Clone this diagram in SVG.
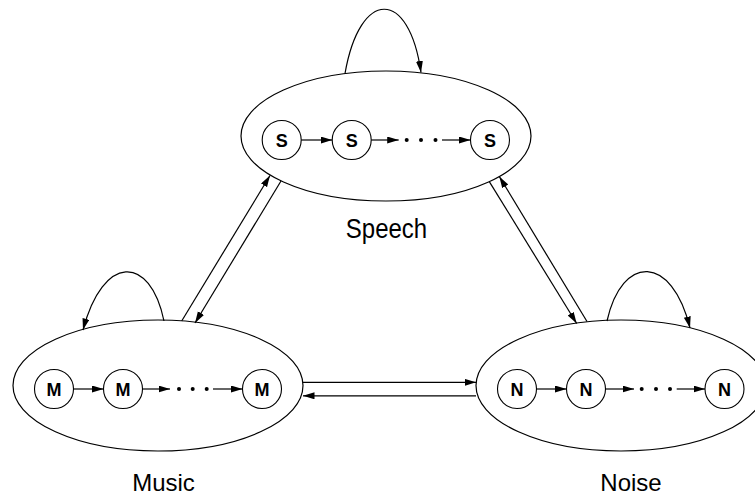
<svg xmlns="http://www.w3.org/2000/svg" width="755" height="496" viewBox="0 0 755 496">
<style>
.ell{fill:none;stroke:#000;stroke-width:1.2}
.st{fill:#fff;stroke:#000;stroke-width:1.1}
.lt{font-family:"Liberation Sans",Arial,sans-serif;font-weight:bold;font-size:18px;text-anchor:middle;fill:#000}
.lab{font-family:"Liberation Sans",Arial,sans-serif;font-size:24px;text-anchor:middle;fill:#000}
.ln{fill:none;stroke:#000;stroke-width:1.2;marker-end:url(#ah)}
.dot{fill:#000}
</style>
<defs>
<marker id="ah" markerUnits="userSpaceOnUse" markerWidth="12" markerHeight="8" refX="11.5" refY="3.5" orient="auto">
<path d="M0,0 L11.5,3.5 L0,7 z" fill="#000"/>
</marker>
</defs>
<rect width="755" height="496" fill="#fff"/>

<g id="speech">
<ellipse class="ell" cx="386" cy="136" rx="145" ry="65"/>
<circle class="st" cx="281.7" cy="140" r="19.5"/><text class="lt" x="281.7" y="146.5">S</text>
<circle class="st" cx="351.7" cy="140" r="19.5"/><text class="lt" x="351.7" y="146.5">S</text>
<circle class="st" cx="490" cy="140" r="19.5"/><text class="lt" x="490" y="146.5">S</text>
<path class="ln" d="M301.2,140 H332.2"/>
<path class="ln" d="M371.2,140 H398.7"/>
<circle class="dot" cx="406.7" cy="140" r="2"/><circle class="dot" cx="421" cy="140" r="2"/><circle class="dot" cx="435.5" cy="140" r="2"/>
<path class="ln" d="M442,140 H470.5"/>
<text class="lab" transform="translate(386.5,238) scale(1,1.12)">Speech</text>
</g>

<g id="music">
<ellipse class="ell" cx="158" cy="385.5" rx="145" ry="65.5"/>
<circle class="st" cx="54" cy="389" r="19.5"/><text class="lt" x="54" y="395.5">M</text>
<circle class="st" cx="123" cy="389" r="19.5"/><text class="lt" x="123" y="395.5">M</text>
<circle class="st" cx="262" cy="389" r="19.5"/><text class="lt" x="262" y="395.5">M</text>
<path class="ln" d="M73.5,389 H103.5"/>
<path class="ln" d="M142.5,389 H170"/>
<circle class="dot" cx="179" cy="389" r="2"/><circle class="dot" cx="192.7" cy="389" r="2"/><circle class="dot" cx="206.7" cy="389" r="2"/>
<path class="ln" d="M213,389 H242.5"/>
<text class="lab" x="163.5" y="490.5">Music</text>
</g>

<g id="noise">
<ellipse class="ell" cx="621" cy="385.5" rx="145" ry="65.5"/>
<circle class="st" cx="517" cy="389" r="19.5"/><text class="lt" x="517" y="395.5">N</text>
<circle class="st" cx="586" cy="389" r="19.5"/><text class="lt" x="586" y="395.5">N</text>
<circle class="st" cx="724.5" cy="389" r="19.5"/><text class="lt" x="724.5" y="395.5">N</text>
<path class="ln" d="M536.5,389 H566.5"/>
<path class="ln" d="M605.5,389 H634"/>
<circle class="dot" cx="641.7" cy="389" r="2"/><circle class="dot" cx="656" cy="389" r="2"/><circle class="dot" cx="670" cy="389" r="2"/>
<path class="ln" d="M676.7,389 H705"/>
<text class="lab" x="631" y="490.5">Noise</text>
</g>

<g id="connectors">
<path class="ln" d="M345,73.5 C360,-12 409,-12 421,72.5"/>
<path class="ln" d="M164,321 C150,254 103,254 83,330"/>
<path class="ln" d="M607,321 C622,254 672,254 690,328"/>
<path class="ln" d="M181.7,321 L270,175.5"/>
<path class="ln" d="M281,181 L195,323"/>
<path class="ln" d="M489.3,181.6 L576.7,323.5"/>
<path class="ln" d="M587,321.5 L499.3,176.5"/>
<path class="ln" d="M303,382.3 H476"/>
<path class="ln" d="M476,395.8 H303"/>
</g>
</svg>
